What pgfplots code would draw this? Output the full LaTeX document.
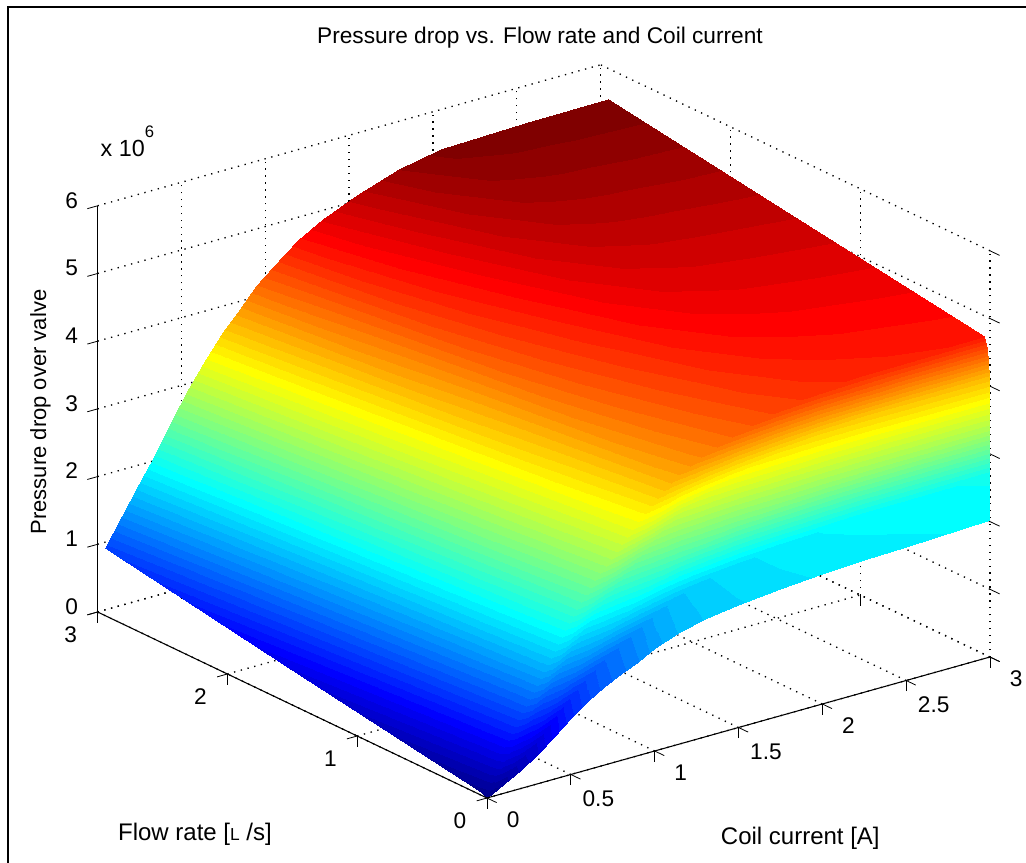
\documentclass[border=0pt]{standalone}
\usepackage{fontspec}
\setmainfont{Liberation Sans}
\usepackage{pgfplots}
\pgfplotsset{compat=1.18}
\pgfplotstableread{
I Q P M
0 0 0.00 0.00
0 0.002 0.00 0.00
0 0.004 0.00 0.00
0 0.01 0.01 0.01
0 0.02 0.02 0.02
0 0.05 0.04 0.04
0 1.5 0.51 0.51
0 2.94 1.00 1.00

0.1 0 0.14 0.14
0.1 0.002 0.21 0.15
0.1 0.004 0.27 0.23
0.1 0.01 0.35 0.32
0.1 0.02 0.39 0.38
0.1 0.05 0.44 0.44
0.1 1.5 0.91 0.91
0.1 2.94 1.40 1.40

0.2 0 0.28 0.28
0.2 0.002 0.41 0.30
0.2 0.004 0.54 0.46
0.2 0.01 0.70 0.63
0.2 0.02 0.77 0.74
0.2 0.05 0.84 0.84
0.2 1.5 1.31 1.31
0.2 2.94 1.80 1.80

0.3 0 0.42 0.42
0.3 0.002 0.62 0.44
0.3 0.004 0.81 0.69
0.3 0.01 1.04 0.94
0.3 0.02 1.16 1.12
0.3 0.05 1.24 1.24
0.3 1.5 1.71 1.71
0.3 2.94 2.20 2.20

0.4 0 0.63 0.63
0.4 0.002 0.88 0.66
0.4 0.004 1.12 0.97
0.4 0.01 1.42 1.29
0.4 0.02 1.57 1.52
0.4 0.05 1.66 1.66
0.4 1.5 2.13 2.13
0.4 2.94 2.62 2.62

0.5 0 0.84 0.84
0.5 0.002 1.14 0.88
0.5 0.004 1.42 1.24
0.5 0.01 1.78 1.62
0.5 0.02 1.96 1.90
0.5 0.05 2.06 2.06
0.5 1.5 2.53 2.53
0.5 2.94 3.02 3.02

0.6 0 1.02 1.02
0.6 0.002 1.36 1.06
0.6 0.004 1.68 1.47
0.6 0.01 2.10 1.92
0.6 0.02 2.31 2.24
0.6 0.05 2.42 2.42
0.6 1.5 2.89 2.89
0.6 2.94 3.38 3.38

0.7 0 1.16 1.16
0.7 0.002 1.55 1.21
0.7 0.004 1.92 1.68
0.7 0.01 2.39 2.19
0.7 0.02 2.62 2.54
0.7 0.05 2.74 2.74
0.7 1.5 3.21 3.21
0.7 2.94 3.70 3.70

0.8 0 1.27 1.27
0.8 0.002 1.70 1.32
0.8 0.004 2.11 1.85
0.8 0.01 2.63 2.40
0.8 0.02 2.88 2.79
0.8 0.05 3.01 3.01
0.8 1.5 3.48 3.48
0.8 2.94 3.97 3.97

0.9 0 1.38 1.38
0.9 0.002 1.85 1.44
0.9 0.004 2.30 2.02
0.9 0.01 2.86 2.62
0.9 0.02 3.15 3.06
0.9 0.05 3.28 3.28
0.9 1.5 3.75 3.75
0.9 2.94 4.24 4.24

1.0 0 1.52 1.52
1.0 0.002 2.01 1.58
1.0 0.004 2.50 2.21
1.0 0.01 3.08 2.83
1.0 0.02 3.37 3.27
1.0 0.05 3.51 3.51
1.0 1.5 3.95 3.95
1.0 2.94 4.45 4.45

1.15 0 1.66 1.66
1.15 0.002 2.20 1.72
1.15 0.004 2.74 2.42
1.15 0.01 3.38 3.10
1.15 0.02 3.70 3.59
1.15 0.05 3.85 3.85
1.15 1.5 4.29 4.29
1.15 2.94 4.75 4.75

1.3 0 1.74 1.74
1.3 0.002 2.31 1.81
1.3 0.004 2.88 2.54
1.3 0.01 3.56 3.26
1.3 0.02 3.91 3.80
1.3 0.05 4.06 4.06
1.3 1.5 4.50 4.50
1.3 2.94 4.96 4.96

1.5 0 1.81 1.81
1.5 0.002 2.41 1.88
1.5 0.004 3.01 2.65
1.5 0.01 3.73 3.42
1.5 0.02 4.09 3.97
1.5 0.05 4.25 4.25
1.5 1.5 4.69 4.69
1.5 2.94 5.17 5.17

1.75 0 1.87 1.87
1.75 0.002 2.50 1.95
1.75 0.004 3.13 2.75
1.75 0.01 3.89 3.56
1.75 0.02 4.26 4.13
1.75 0.05 4.43 4.43
1.75 1.5 4.90 4.90
1.75 2.94 5.38 5.38

2 0 1.92 1.92
2 0.002 2.57 2.00
2 0.004 3.22 2.83
2 0.01 3.99 3.65
2 0.02 4.38 4.25
2 0.05 4.55 4.55
2 1.5 5.02 5.02
2 2.94 5.50 5.50

2.25 0 1.95 1.95
2.25 0.002 2.61 2.03
2.25 0.004 3.26 2.87
2.25 0.01 4.05 3.71
2.25 0.02 4.45 4.32
2.25 0.05 4.62 4.62
2.25 1.5 5.07 5.07
2.25 2.94 5.53 5.53

2.5 0 1.97 1.97
2.5 0.002 2.63 2.05
2.5 0.004 3.30 2.90
2.5 0.01 4.09 3.75
2.5 0.02 4.49 4.36
2.5 0.05 4.66 4.66
2.5 1.5 5.09 5.09
2.5 2.94 5.54 5.54

3 0 2.02 2.02
3 0.002 2.68 2.10
3 0.004 3.34 2.94
3 0.01 4.13 3.79
3 0.02 4.53 4.40
3 0.05 4.70 4.70
3 1.5 5.12 5.12
3 2.94 5.55 5.55
}\surfdata
\pgfplotsset{
  colormap={mjetbase}{rgb(0pt)=(0,0,0.5625) rgb(111pt)=(0,0,1) rgb(365pt)=(0,1,1) rgb(619pt)=(1,1,0) rgb(873pt)=(1,0,0) rgb(1000pt)=(0.5,0,0)},
  colormap={mjet}{samples of colormap=(64 of mjetbase)},
}
\begin{document}
\begin{tikzpicture}
\path[use as bounding box] (0pt,0pt) rectangle (769.5pt,647.25pt);
\draw[line width=2.2pt] (6pt,0pt) -- (6pt,642pt) -- (769.5pt,642pt);
\begin{axis}[
  at={(365.25pt,48.75pt)}, anchor=origin,
  x={(125.75pt,35.25pt)}, y={(-97.35pt,46.5pt)}, z={(0pt,50.775pt)},
  xmin=0,xmax=3,ymin=0,ymax=3,zmin=0,zmax=6,
  xtick={0,0.5,1,1.5,2,2.5,3}, ytick={0,1,2,3}, ztick={0,1,2,3,4,5,6},
  xticklabels={0,0.5,1,1.5,2,2.5,3}, yticklabels={0,1,2,3}, zticklabels={0,1,2,3,4,5,6},
  xtick pos=lower, ytick pos=lower, ztick pos=left,
  grid=major,
  grid style={black,line width=1pt,dash pattern=on 1pt off 4.2pt},
  axis line style={draw=none},
  tick style={black,line width=0.6pt},
  tick align=outside, major tick length=8pt,
  clip=false,
  colormap name=mjet,
  colormap access=piecewise constant,
  point meta min=0, point meta max=5.55,
  ticklabel style={font=\fontsize{17}{20}\selectfont},
  xticklabel style={xshift=6pt,yshift=-3pt},
  yticklabel style={xshift=-5pt,yshift=-5pt},
  zticklabel style={xshift=-4pt},
  title={Pressure drop vs. Flow rate and Coil current},
  title style={at={(axis cs:0,0,0)},anchor=center,xshift=39.75pt,yshift=564pt,font=\fontsize{17}{19}\selectfont},
  xlabel={Coil current [A]},
  xlabel style={at={(axis cs:0,0,0)},anchor=center,xshift=235pt,yshift=-30pt,rotate=0,font=\fontsize{18}{20}\selectfont},
  ylabel={Flow rate [{\fontsize{13}{13}\selectfont L} /s]},
  ylabel style={at={(axis cs:0,0,0)},anchor=center,xshift=-219pt,yshift=-27pt,rotate=0,font=\fontsize{18}{20}\selectfont},
  zlabel={Pressure drop over valve},
  zlabel style={at={(axis cs:0,0,0)},anchor=center,xshift=289.5pt,yshift=335pt,rotate=0,font=\fontsize{16.5}{20}\selectfont},
]
\addplot3[surf,shader=interp,mesh/ordering=y varies,mesh/rows=8,mesh/cols=19,point meta=\thisrow{M}] table[x=I,y=Q,z=P]{\surfdata};
\addplot3[black,line width=0.8pt] coordinates {(0,0,0)(3,0,0)};
\addplot3[black,line width=0.8pt] coordinates {(0,0,0)(0,3,0)};
\addplot3[black,line width=0.8pt] coordinates {(0,3,0)(0,3,6)};
\end{axis}
\node[font=\fontsize{17.5}{20}\selectfont,anchor=base west] at (72pt,530pt) {x 10\raisebox{14pt}{\fontsize{12.5}{12}\selectfont 6}};
\end{tikzpicture}
\end{document}
